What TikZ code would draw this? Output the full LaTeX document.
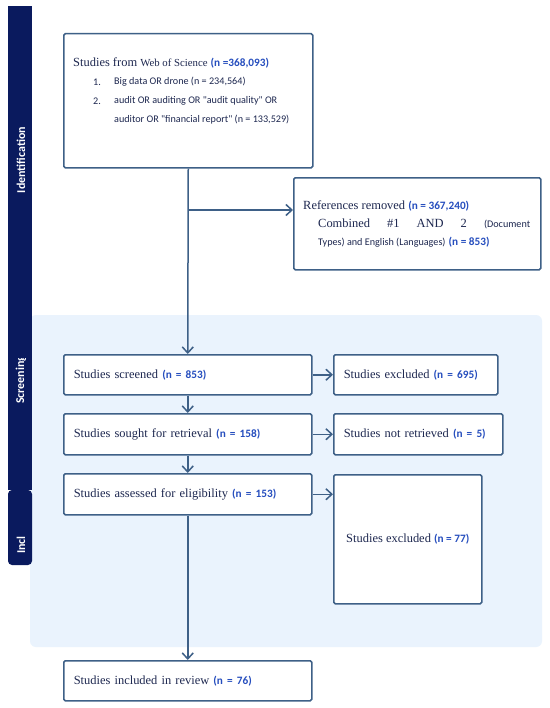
\documentclass[tikz,border=0pt]{standalone}
\usepackage{fontspec}
\setmainfont{Liberation Serif}
\newfontfamily\calfont{Carlito}
\usetikzlibrary{arrows.meta}
\definecolor{navy}{RGB}{10,26,94}
\definecolor{edge}{RGB}{62,96,135}
\definecolor{txt}{RGB}{30,40,80}
\definecolor{nblue}{RGB}{38,78,190}
\definecolor{bgblue}{RGB}{234,243,253}
\newcommand\nn[1]{{\calfont\bfseries\fontsize{11.3}{13}\selectfont\color{nblue}#1}}
\begin{document}
\begin{tikzpicture}[x=1bp,y=-1bp,
  box/.style={draw=edge, line width=1.5bp, rounded corners=1.5bp, fill=white, inner sep=0pt},
  tbox/.style={box, anchor=north west, align=left, inner xsep=10bp, text=txt,
    font=\fontsize{12.5}{14}\selectfont},
  arr/.style={draw=edge, line width=1.5bp, -{Straight Barb[length=6bp,width=11bp,line width=1.5bp]}},
  lbl/.style={anchor=west, inner sep=0pt, text=txt, font=\fontsize{12.5}{14}\selectfont},
  cal/.style={anchor=west, inner sep=0pt, text=txt, font=\calfont\fontsize{10.2}{12}\selectfont},
  bartext/.style={rotate=90, text=white, inner sep=0pt, font=\calfont\bfseries\fontsize{12}{14}\selectfont}]
\useasboundingbox (0,0) rectangle (550,708);
\fill[white] (0,0) rectangle (550,708);
% background of screening area
\fill[bgblue, rounded corners=6bp] (30,315) rectangle (542,647);
% side bar
\fill[navy] (8,6) rectangle (32,240);
\fill[navy] (8,240) rectangle (31.5,490);
\fill[navy, rounded corners=4bp] (8,490) rectangle (32,565);
\node[bartext] (lid) at (21,160) {Identification};
\begin{scope}
\clip (8,358) rectangle (32,490);
\node[bartext, anchor=west] (lsc) at (21,404) {Screening};
\end{scope}
\node[bartext, anchor=west] (lin) at (21,554) {Incl};
% source box
\node[box, anchor=north west, minimum width=249bp, minimum height=134bp] (src) at (63,33) {};
\node[lbl] (t1) at (73,63) {Studies from {\fontsize{10.8}{12}\selectfont Web of Science} \nn{(n =368,093)}};
\node[cal] (n1) at (93,82) {1.};
\node[cal] (l1) at (114,82) {Big data OR drone (n = 234,564)};
\node[cal] (n2) at (93,101) {2.};
\node[cal] (l2) at (114,101) {audit OR auditing OR "audit quality" OR};
\node[cal] (l3) at (114,120) {auditor OR "financial report" (n = 133,529)};
% references removed
\node[box, anchor=north west, minimum width=247bp, minimum height=92bp] (refs) at (293,177) {};
\node[lbl] (r1) at (303,206) {References removed \nn{(n = 367,240)}};
\node[lbl] (r2) at (318,224) {\hbox to 212bp{Combined\hfill\#1\hfill AND\hfill 2\hfill{\calfont\fontsize{10.2}{12}\selectfont (Document}}};
\node[lbl] (r3) at (318,242) {{\calfont\fontsize{10.2}{12}\selectfont Types) and English (Languages)} \nn{(n = 853)}};
% flow boxes
\node[tbox, minimum width=248bp, minimum height=40bp, text width=228bp] (scr) at (63,354) {Studies screened \nn{(n = 853)}};
\node[tbox, minimum width=164bp, minimum height=40bp, text width=144bp] (exc) at (333,354) {Studies excluded \nn{(n = 695)}};
\node[tbox, minimum width=248bp, minimum height=41bp, text width=228bp] (sou) at (63,413) {Studies sought for retrieval \nn{(n = 158)}};
\node[tbox, minimum width=169bp, minimum height=41bp, text width=149bp] (nret) at (333,413) {Studies not retrieved \nn{(n = 5)}};
\node[tbox, minimum width=248bp, minimum height=41bp, text width=228bp] (ass) at (63,473) {Studies assessed for eligibility \nn{(n = 153)}};
\node[tbox, minimum width=148bp, minimum height=129bp, inner xsep=0pt] (ex77) at (333,474) {Studies excluded \nn{(n = 77)}};
\node[tbox, minimum width=248bp, minimum height=40bp, text width=228bp] (inc) at (63,660) {Studies included in review \nn{(n = 76)}};
% connectors
\coordinate (bry) at (0,210);
\coordinate (br) at (src.south |- bry);
\draw[arr] (src.south) -- (scr.north);
\draw[arr] (br) -- (br -| refs.west);
\draw[arr] (scr.south) -- (sou.north);
\draw[arr] (sou.south) -- (ass.north);
\draw[arr] (ass.south) -- (inc.north);
\draw[arr] (scr.east) -- (exc.west);
\draw[arr] (sou.east) -- (nret.west);
\draw[arr] (ass.east) -- (ass.east -| ex77.west);
\end{tikzpicture}
\end{document}
